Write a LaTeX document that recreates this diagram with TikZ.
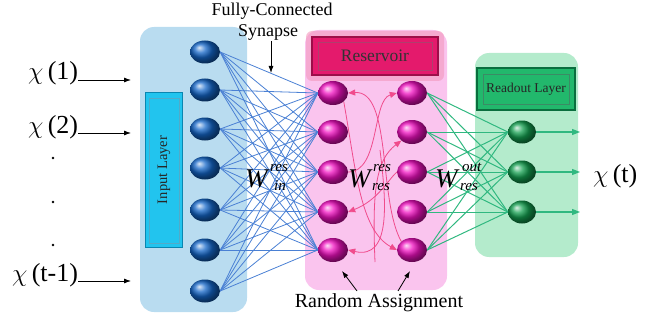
\documentclass[tikz,border=0pt]{standalone}
\usepackage{fontspec}
\setmainfont{Liberation Serif}
\usetikzlibrary{shapes.geometric,arrows.meta}
\definecolor{inpanel}{HTML}{B9DCF0}
\definecolor{respanel}{HTML}{FAC4EE}
\definecolor{outpanel}{HTML}{B4EBCC}
\definecolor{inbtn}{HTML}{22C4EE}
\definecolor{inbtnd}{HTML}{0A86B0}
\definecolor{resbtn}{HTML}{E41A6C}
\definecolor{resbtnd}{HTML}{9C0E48}
\definecolor{outbtn}{HTML}{22B86C}
\definecolor{outbtnd}{HTML}{0A6E3E}
\definecolor{bluenode}{HTML}{1466C8}
\definecolor{magnode}{HTML}{F010C0}
\definecolor{greennode}{HTML}{14A050}
\definecolor{blueline}{HTML}{4A80D4}
\definecolor{greenline}{HTML}{30B880}
\definecolor{pinkline}{HTML}{F04C8C}
\begin{document}
\begin{tikzpicture}[x=1pt,y=-1pt,
  panel/.style={rounded corners=14pt,draw=none},
  innode/.style={ellipse,minimum width=30pt,minimum height=23pt,inner sep=0pt,shading=ball,ball color=bluenode},
  resnode/.style={ellipse,minimum width=30pt,minimum height=24pt,inner sep=0pt,shading=ball,ball color=magnode},
  outnode/.style={ellipse,minimum width=28pt,minimum height=23pt,inner sep=0pt,shading=ball,ball color=greennode},
  bline/.style={blueline,line width=0.8pt},
  gline/.style={greenline,line width=1pt},
  pline/.style={pinkline,line width=0.8pt,-{Triangle[length=7pt,width=6pt]}},
  blackarrow/.style={black,line width=0.8pt,-{Latex[length=7pt,width=5pt]}},
  garrow/.style={greenline,line width=1.2pt,-{Triangle[length=8pt,width=6pt]}},
  intext/.style={font=\fontsize{26}{26}\selectfont,inner sep=0pt,anchor=base west},
  lbl/.style={font=\fontsize{18}{18}\selectfont,inner sep=0pt},
  wlbl/.style={inner sep=0pt},
  wsml/.style={inner sep=0pt,font=\fontsize{15}{15}\selectfont\itshape,anchor=base west},
]
\useasboundingbox (0,0) rectangle (652,326);

% panels
\fill[inpanel,panel] (140,27) rectangle (247,312);
\fill[respanel,panel] (305,30) rectangle (447,290);
\fill[outpanel,panel] (475,53) rectangle (578,257);

% input layer button
\node[draw=inbtnd,fill=inbtn,line width=1.2pt,minimum width=37pt,minimum height=155pt,inner sep=0pt] (inbtn) at (164,170) {};
\draw[inbtnd!70,line width=0.6pt] (149,98) rectangle (179,243);
\node[rotate=90,font=\fontsize{14.5}{14.5}\selectfont,text=black!85] (inlbl) at (inbtn) {Input Layer};

% reservoir button with glow
\fill[resbtn!45,rounded corners=6pt,opacity=0.6] (306,31) rectangle (444,81);
\node[draw=resbtnd,fill=resbtn,line width=1.2pt,minimum width=126pt,minimum height=38pt,inner sep=0pt] (resbtn) at (375,56) {};
\draw[resbtnd!80,line width=0.6pt] (318,42) rectangle (432,70);
\node[font=\fontsize{17.5}{17.5}\selectfont,text=black!80] (reslbl) at (resbtn) {Reservoir};

% readout button
\node[draw=outbtnd,fill=outbtn,line width=1.2pt,minimum width=98pt,minimum height=42pt,inner sep=0pt] (outbtn) at (526,89) {};
\draw[outbtnd!80,line width=0.6pt] (483,74) rectangle (569,104);
\node[font=\fontsize{13.5}{13.5}\selectfont,text=black!85] (outlbl) at (outbtn) {Readout Layer};

% input nodes
\foreach \y [count=\i] in {52,90,129,168,210,250,291}
  \node[innode] (i\i) at (205,\y) {};
% reservoir nodes
\foreach \y [count=\j] in {93,132,172,212,250} {
  \node[resnode] (r\j) at (333,\y) {};
  \node[resnode] (s\j) at (412,\y) {};
}
% readout nodes
\foreach \y [count=\k] in {132,172,212}
  \node[outnode] (o\k) at (522,\y) {};

% input -> reservoir connections
\foreach \i in {1,...,7}
  \foreach \j in {1,...,5}
    \draw[bline] (i\i.east) -- (r\j.west);

% reservoir -> readout connections
\foreach \j in {1,...,5}
  \foreach \k in {1,...,3}
    \draw[gline] (s\j.east) -- (o\k.west);

% output arrows
\foreach \k/\y in {1/132,2/172,3/212} {
  \coordinate (e\k) at (580,\y);
  \draw[garrow] (o\k.east) -- (e\k);
}

% reservoir internal recurrent connections
\draw[pline] (s5.north west) .. controls (378,200) and (392,90) .. (r1.east);
\draw[pline] (r3.east) .. controls (380,172) and (372,100) .. (s1.west);
\draw[pline] (375,262) .. controls (372,190) and (376,160) .. (s2.south west);
\draw[pline] (s3.west) .. controls (388,180) and (378,200) .. (r4.east);
\draw[pline] (r1.south east) .. controls (356,170) and (360,230) .. (s5.west);
\draw[pline] (380,150) .. controls (386,200) and (392,260) .. (r5.east);

% inputs
\node[intext] (x1) at (28,80) {$\chi$\,(1)};
\node[intext] (x2) at (28,133) {$\chi$\,(2)};
\node[intext] (x3) at (12,281) {$\chi$\,(t-1)};
\coordinate (a1) at (131,80);
\coordinate (a2) at (131,133);
\coordinate (a3) at (131,281);
\draw[blackarrow] (x1.base east) -- (a1);
\draw[blackarrow] (x2.base east) -- (a2);
\draw[blackarrow] (x3.base east) -- (a3);
\foreach \y [count=\d] in {158,202,245}
  \node[circle,fill=black,inner sep=0pt,minimum size=2.8pt] (dot\d) at (53,\y) {};

% output label
\node[intext] (xt) at (593,182) {$\chi$\,(t)};

% weight labels
\node[wlbl,anchor=base west] (win) at (245,187) {\fontsize{27}{27}\selectfont\textit{W}};
\node[wsml] (winsup) at (270,171) {res};
\node[wsml] (winsub) at (274,190) {in};
\node[wlbl,anchor=base west] (wres) at (348,187) {\fontsize{27}{27}\selectfont\textit{W}};
\node[wsml] (wressup) at (373,171) {res};
\node[wsml] (wressub) at (372,190) {res};
\node[wlbl,anchor=base west] (wout) at (435,187) {\fontsize{27}{27}\selectfont\textit{W}};
\node[wsml] (woutsup) at (462,171) {out};
\node[wsml] (woutsub) at (460,190) {res};

% top label
\node[lbl] (fc) at (272,11) {Fully-Connected};
\node[lbl] (syn) at (268,32) {Synapse};
\coordinate (fcend) at (271,73);
\draw[blackarrow] (271,41) -- (fcend);

% bottom label
\node[font=\fontsize{20}{20}\selectfont,inner sep=0pt] (ra) at (379,303) {Random Assignment};
\coordinate (ra1) at (342,271);
\coordinate (ra2) at (410,271);
\draw[blackarrow] (357,291) -- (ra1);
\draw[blackarrow] (398,291) -- (ra2);
\end{tikzpicture}
\end{document}
